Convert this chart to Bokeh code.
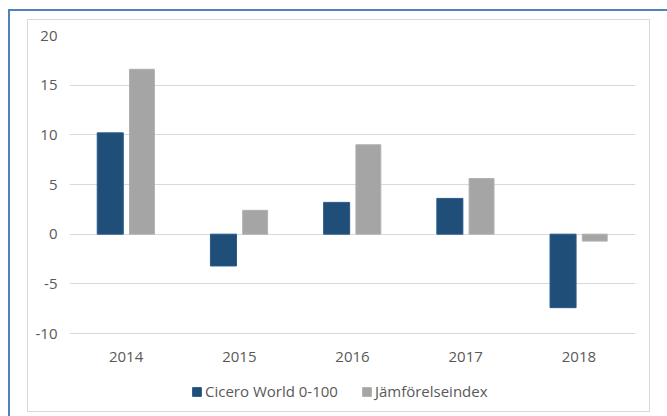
from bokeh.plotting import figure
from bokeh.models import (ColumnDataSource, FactorRange, Range1d, Legend, LegendItem, FixedTicker,
                          InlineStyleSheet, PrintfTickFormatter)
from bokeh.transform import dodge
from bokeh.embed import file_html
from bokeh.resources import INLINE

years = ["2014", "2015", "2016", "2017", "2018"]
cicero = [10.2, -3.2, 3.2, 3.6, -7.4]
jamfor = [16.6, 2.4, 9.0, 5.6, -0.7]
y_ticks = [-10, -5, 0, 5, 10, 15, 20]
series_names = ["Cicero World 0-100", "Jämförelseindex"]

src = ColumnDataSource(dict(year=years, cicero=cicero, jamfor=jamfor))

W, H = 667, 416
top_px, grid_bottom_px = 35, 333          # pixel rows of the 20 and -10 gridlines
ymin, ymax = min(y_ticks), max(y_ticks)
px_per_unit = (grid_bottom_px - top_px) / (ymax - ymin)
y_start = ymax - (H - top_px) / px_per_unit   # frame reaches the canvas bottom

p = figure(width=W, height=H, x_range=FactorRange(*years), y_range=Range1d(y_start, ymax),
           output_backend="svg", toolbar_location=None, tools="", x_axis_location=None)
p.min_border_left = 69
p.min_border_right = 32
p.min_border_top = top_px
p.min_border_bottom = 0
p.outline_line_color = None
p.background_fill_color = "white"
p.border_fill_color = "white"

font = "Open Sans"
txt = "#595959"
fs = "15px"

p.yaxis.ticker = FixedTicker(ticks=y_ticks)
p.yaxis.formatter = PrintfTickFormatter(format="%d")
p.ygrid.ticker = FixedTicker(ticks=y_ticks)
p.yaxis.axis_line_color = None
p.yaxis.major_tick_line_color = None
p.yaxis.minor_tick_line_color = None
p.yaxis.major_tick_out = 0
p.yaxis.major_tick_in = 0
p.yaxis.major_label_text_font = font
p.yaxis.major_label_text_font_size = fs
p.yaxis.major_label_text_color = txt
p.yaxis.major_label_standoff = 12
p.xgrid.grid_line_color = None
p.ygrid.grid_line_color = "#d9d9d9"
p.ygrid.grid_line_width = 1

r1 = p.vbar(x=dodge("year", -0.14, range=p.x_range), top="cicero", bottom=0, width=0.23,
            source=src, fill_color="#1f4e79", line_color="#2a5a88", line_width=1)
r2 = p.vbar(x=dodge("year", 0.14, range=p.x_range), top="jamfor", bottom=0, width=0.22,
            source=src, fill_color="#a5a5a5", line_color="#b0b0b0", line_width=1)

# category labels under the lowest gridline
p.text(x="year", y=ymin, text="year", source=src, y_offset=23,
       text_align="center", text_baseline="middle",
       text_font={"value": font}, text_font_size=fs, text_color=txt)

legend = Legend(items=[LegendItem(label=series_names[0], renderers=[r1]),
                       LegendItem(label=series_names[1], renderers=[r2])],
                orientation="horizontal", location=(122, 15))
legend.label_text_font = font
legend.label_text_font_size = "15px"
legend.label_text_color = txt
legend.glyph_width = 11
legend.glyph_height = 11
legend.label_standoff = 3
legend.spacing = 23
legend.padding = 0
legend.margin = 0
legend.border_line_color = None
legend.background_fill_alpha = 0
p.add_layout(legend, "center")

css = """
:host { position: relative; }
:host::before {
  content: ""; position: absolute; left: 8px; top: 9px; width: 659px; height: 407px;
  border-left: 2px solid #4f81bd; border-top: 2px solid #4f81bd;
  box-sizing: border-box; pointer-events: none; z-index: 10;
}
:host::after {
  content: ""; position: absolute; left: 27px; top: 19px; width: 623px; height: 393px;
  border: 1px solid #d9d9d9; box-sizing: border-box; pointer-events: none; z-index: 10;
}
"""
p.stylesheets = [InlineStyleSheet(css=css)]

open("out.html", "w").write(file_html(p, INLINE))
